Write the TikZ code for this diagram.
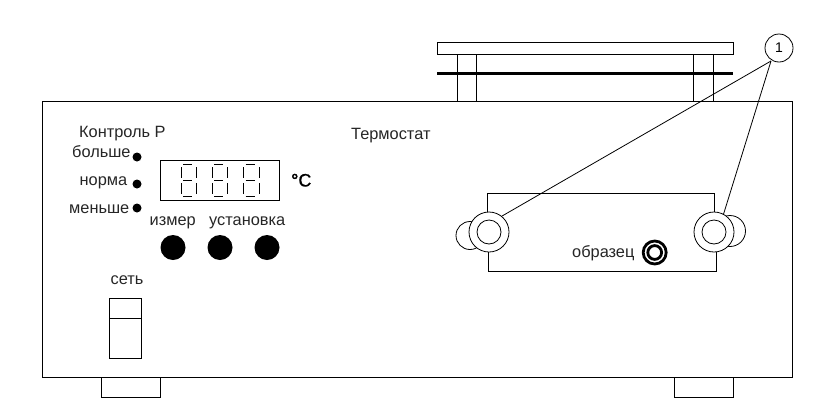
\documentclass[tikz,border=0pt]{standalone}
\usepackage{fontspec}
\setmainfont{Liberation Sans}
\tikzset{
  every picture/.style={x=1pt,y=-1pt},
  lbl/.style={inner sep=0pt,font=\fontsize{16.35}{16}\selectfont,text=black!85,anchor=base west},
  ln/.style={draw=black,line width=1pt},
  thin line/.style={draw=black,line width=0.8pt},
  blob/.style={circle,fill=black,inner sep=0pt},
  seg/.style={draw=black,line width=0.8pt},
  fitting/.style={circle,draw=black,line width=0.8pt,fill=white,minimum size=40pt,inner sep=0pt},
  fittinginner/.style={circle,draw=black,line width=0.8pt,minimum size=24pt,inner sep=0pt},
}
\newcommand{\digit}[1]{%
  \draw[seg] (#1+2,164)--(#1+11,164) (#1+2,180.5)--(#1+11,180.5) (#1+2,196)--(#1+11,196)
    (#1,167)--(#1,178) (#1+15.5,167)--(#1+15.5,178)
    (#1,183)--(#1,194) (#1+15.5,183)--(#1+15.5,194);}
\begin{document}
\begin{tikzpicture}
\useasboundingbox (0,0) rectangle (834,418);
\fill[white] (0,0) rectangle (834,418);
% top plate
\draw[ln] (437.5,42.5) rectangle (733.5,54.5);
\draw[ln] (457.5,54.5)--(457.5,101) (476.5,54.5)--(476.5,101)
          (693.5,54.5)--(693.5,101) (713.5,54.5)--(713.5,101);
\draw[draw=black,line width=3pt] (437,73)--(733,73);
% body
\draw[ln] (42.5,101.5) rectangle (792.5,377.5);
\draw[ln] (101.5,377.5)--(101.5,397.5)--(160.5,397.5)--(160.5,377.5);
\draw[ln] (674.5,377.5)--(674.5,397.5)--(733.5,397.5)--(733.5,377.5);
% sample panel
\draw[ln] (487.5,213)--(487.5,193.5)--(714.5,193.5)--(714.5,213);
\draw[ln] (488.5,252)--(488.5,271.5)--(716.5,271.5)--(716.5,252);
% back circles
\draw[thin line] (470,235.5) circle[radius=14];
\draw[thin line] (730,231) circle[radius=15.5];
% fittings
\node[fitting] (fl) at (489,232) {};
\node[fittinginner] (fli) at (489,232) {};
\node[fitting] (fr) at (714,232) {};
\node[fittinginner] (fri) at (714,232) {};
% callout
\node[circle,draw=black,line width=0.8pt,minimum size=28pt,inner sep=0pt,font=\fontsize{14}{14}\selectfont] (one) at (779,48) {1};
\coordinate (tip) at (771,61);
\draw[thin line] (tip)--(fl.51);
\draw[thin line] (tip)--(fr.62);
% sample
\node[circle,draw=black,line width=2.8pt,minimum size=23pt,inner sep=0pt] (ringa) at (654.7,252.5) {};
\node[circle,draw=black,line width=2.8pt,minimum size=13.8pt,inner sep=0pt] (ringb) at (654.7,252.5) {};
\node[lbl] (obr) at (572,257) {образец};
% title
\node[lbl] (term) at (351,139) {Термостат};
% left controls
\node[lbl] (ctrl) at (79,137) {Контроль Р};
\node[lbl] (more) at (72,157) {больше};
\node[lbl] (norm) at (79.5,185) {норма};
\node[lbl] (less) at (69,213.5) {меньше};
\node[blob,minimum size=9pt] (d1) at (137,157) {};
\node[blob,minimum size=9pt] (d2) at (137,184) {};
\node[blob,minimum size=9pt] (d3) at (137,208) {};
% display
\draw[ln] (160.5,160.5) rectangle (279.5,200.5);
\digit{181}\digit{212}\digit{243.5}
\node[inner sep=0pt,anchor=base west,font=\fontsize{18}{18}\selectfont] (deg) at (291,186.5) {{\addfontfeature{FakeBold=2.5}°}{\addfontfeature{FakeBold=0.8}C}};
\node[lbl] (izm) at (149.5,225) {измер};
\node[lbl] (ust) at (209,225) {установка};
\node[blob,minimum size=25pt] (b1) at (173,247.5) {};
\node[blob,minimum size=25pt] (b2) at (220,247.5) {};
\node[blob,minimum size=25pt] (b3) at (267,247.5) {};
% switch
\node[lbl] (set) at (110.5,284) {сеть};
\draw[ln] (109.5,298.5) rectangle (141.5,358.5);
\draw[ln] (109.5,318.5)--(141.5,318.5);
\end{tikzpicture}
\end{document}
